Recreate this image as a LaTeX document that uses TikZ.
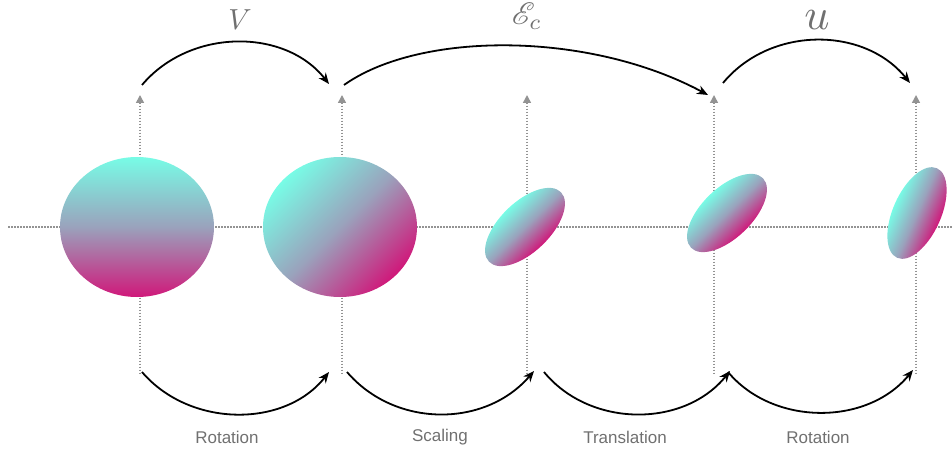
\documentclass[tikz,border=0pt]{standalone}
\usepackage{fontspec}
\usepackage{mathrsfs}
\newfontfamily\labelfont{Liberation Sans}
\usetikzlibrary{arrows.meta}
\definecolor{cyanE}{HTML}{78FCE6}
\definecolor{midE}{HTML}{9AA2BC}
\definecolor{magE}{HTML}{D0187A}
\definecolor{axisgray}{HTML}{939393}
\definecolor{txtgray}{HTML}{707070}
\tikzset{
  axisline/.style={axisgray, line width=1.5pt, dash pattern=on 1.5pt off 1.5pt},
  axisarrow/.style={axisline, {Triangle[length=8pt,width=8pt,fill=axisgray]}-},
  maparrow/.style={black, line width=1.8pt, -{Stealth[length=11pt,width=9pt]}},
  steplabel/.style={txtgray, font=\labelfont\fontsize{17}{20}\selectfont},
  maplabel/.style={txtgray, inner sep=0pt},
  blob/.style={top color=cyanE, bottom color=magE, middle color=midE},
}
\begin{document}
\begin{tikzpicture}[x=1pt,y=-1pt]
\useasboundingbox (0,0) rectangle (952,449);
% horizontal axis
\coordinate (hl) at (8,227);
\coordinate (hr) at (952,227);
\draw[axisline] (hl) -- (hr);
% vertical axes
\foreach \i/\x in {1/140,2/342,3/527,4/714,5/916}{
  \coordinate (t\i) at (\x,95);
  \coordinate (b\i) at (\x,374);
  \draw[axisarrow] (t\i) -- (b\i);
}
% ellipses
\shade[blob] (137,227) ellipse [x radius=77, y radius=70];
\shade[blob, shading angle=45] (340,227) ellipse [x radius=77, y radius=70];
\begin{scope}[transform canvas={shift={(525pt,-227pt)}, rotate=44}]
  \shade[blob] (0,0) ellipse [x radius=50, y radius=25];
\end{scope}
\begin{scope}[transform canvas={shift={(727pt,-213pt)}, rotate=44}]
  \shade[blob] (0,0) ellipse [x radius=50, y radius=25];
\end{scope}
\begin{scope}[transform canvas={shift={(917pt,-213pt)}, rotate=66}]
  \shade[blob] (0,0) ellipse [x radius=49, y radius=24];
\end{scope}
% top map arrows
\coordinate (va) at (142,85);  \coordinate (vb) at (329,84);
\coordinate (ea) at (344,85);  \coordinate (eb) at (708,95);
\coordinate (ua) at (723,83);  \coordinate (ub) at (910,83);
\draw[maparrow] (va) .. controls (190,28) and (285,28) .. (vb);
\draw[maparrow] (ea) .. controls (420,31) and (589,31) .. (eb);
\draw[maparrow] (ua) .. controls (770,26) and (864,26) .. (ub);
\node[maplabel] (V) at (240,20) {\scalebox{2.9}{$V$}};
\node[maplabel, anchor=base] (E) at (527,25) {\scalebox{3.1}{$\mathscr{E}_c$}};
\node[maplabel, anchor=base] (U) at (817,30) {\scalebox{4.4}{$u$}};
% bottom step arrows
\coordinate (r1a) at (142,372); \coordinate (r1b) at (329,372);
\coordinate (sa) at (347,372);  \coordinate (sb) at (534,371);
\coordinate (ta) at (544,372);  \coordinate (tb) at (730,371);
\coordinate (r2a) at (728,372); \coordinate (r2b) at (913,370);
\draw[maparrow] (r1a) .. controls (190,428) and (285,428) .. (r1b);
\draw[maparrow] (sa) .. controls (395,428) and (485,428) .. (sb);
\draw[maparrow] (ta) .. controls (590,428) and (684,428) .. (tb);
\draw[maparrow] (r2a) .. controls (773,426) and (867,426) .. (r2b);
\node[steplabel] (l1) at (227,437) {Rotation};
\node[steplabel] (l2) at (440,437) {Scaling};
\node[steplabel] (l3) at (625,437) {Translation};
\node[steplabel] (l4) at (818,437) {Rotation};
\end{tikzpicture}
\end{document}
